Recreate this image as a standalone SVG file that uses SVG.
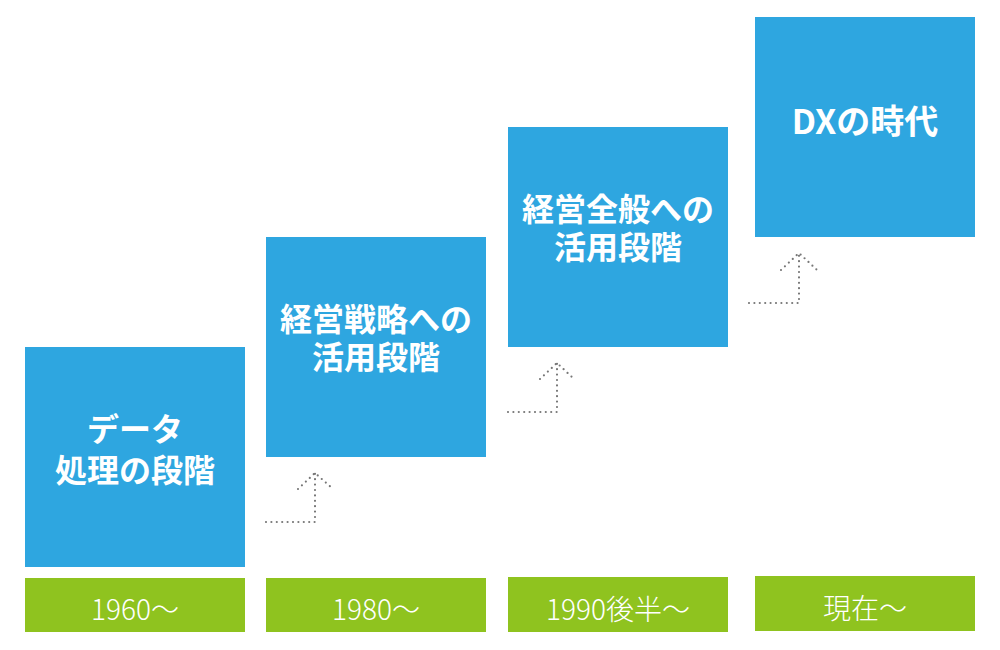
<svg xmlns="http://www.w3.org/2000/svg" width="1000" height="650" viewBox="0 0 1000 650">
<style>
.stage{fill:#2ea6e0}
.era{fill:#8fc31f}
.st{font-family:"Noto Sans CJK JP","Noto Sans",sans-serif;font-weight:700;font-size:32px;fill:#fff;text-anchor:middle}
.et{font-family:"Noto Sans CJK JP","Noto Sans",sans-serif;font-weight:300;font-size:28px;fill:#fff;text-anchor:middle}
.dot{fill:none;stroke:#777;stroke-width:2.2;stroke-linecap:round;stroke-dasharray:0 5.4}
</style>
<rect width="1000" height="650" fill="#fff"/>
<g id="stage1">
<rect class="stage" x="25" y="347" width="220" height="220"/>
<text class="st" x="135" y="441">データ</text>
<text class="st" x="135" y="482">処理の段階</text>
</g>
<g id="stage2">
<rect class="stage" x="266" y="237" width="220" height="220"/>
<text class="st" x="376" y="331">経営戦略への</text>
<text class="st" x="376" y="369">活用段階</text>
</g>
<g id="stage3">
<rect class="stage" x="508" y="127" width="220" height="220"/>
<text class="st" x="618" y="221">経営全般への</text>
<text class="st" x="618" y="259">活用段階</text>
</g>
<g id="stage4">
<rect class="stage" x="755" y="17" width="220" height="220"/>
<text class="st" x="865" y="134" style="font-size:34px">DXの時代</text>
</g>
<g id="era1">
<rect class="era" x="25" y="578" width="220" height="54"/>
<text class="et" x="135" y="620">1960〜</text>
</g>
<g id="era2">
<rect class="era" x="266" y="578" width="220" height="54"/>
<text class="et" x="376" y="620">1980〜</text>
</g>
<g id="era3">
<rect class="era" x="508" y="577" width="220" height="55"/>
<text class="et" x="618" y="620">1990後半〜</text>
</g>
<g id="era4">
<rect class="era" x="755" y="576" width="220" height="55"/>
<text class="et" x="865" y="619">現在〜</text>
</g>
<g id="connectors">
<path class="dot" d="M266 522 H315 V473"/>
<path class="dot" d="M298 489 L315 473 L333 489"/>
<path class="dot" d="M508 412 H557 V363"/>
<path class="dot" d="M540 379 L557 363 L574 379"/>
<path class="dot" d="M749 303 H799 V253"/>
<path class="dot" d="M781 270 L799 253 L817 270"/>
</g>
</svg>
